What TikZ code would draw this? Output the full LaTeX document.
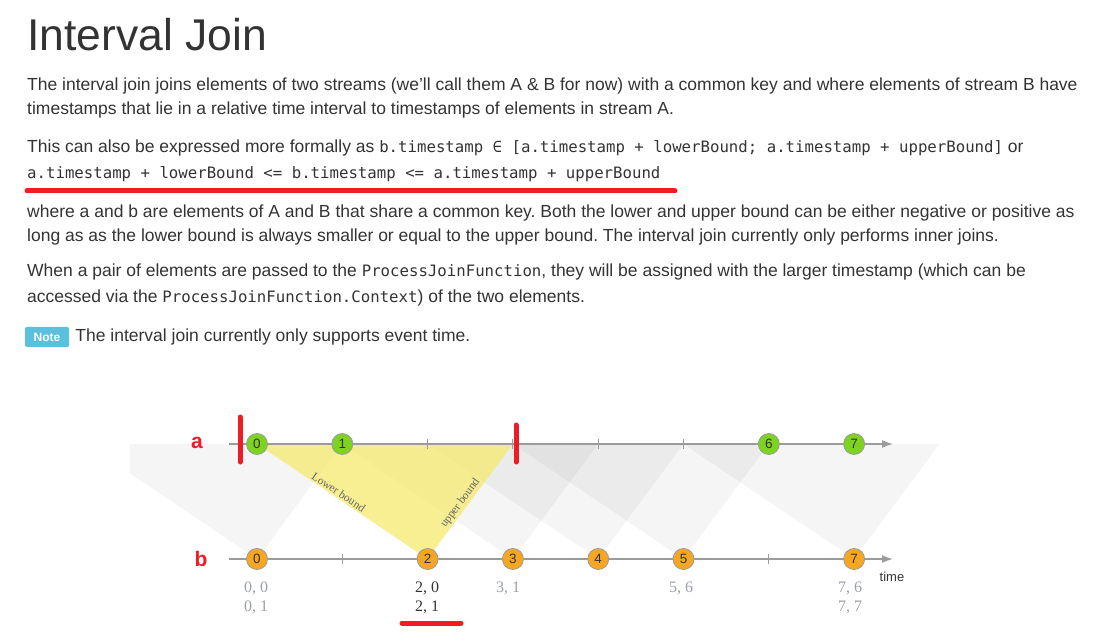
\documentclass[tikz,border=0pt]{standalone}
\usepackage{fontspec}
\setmainfont{Liberation Sans}
\newfontfamily\codefont{DejaVu Sans Mono}
\newfontfamily\pairfont{Liberation Serif}
\usetikzlibrary{arrows.meta,positioning,calc}
\definecolor{ijtext}{HTML}{333333}
\definecolor{ijgreen}{HTML}{7ED321}
\definecolor{ijorange}{HTML}{F5A623}
\definecolor{ijaxis}{HTML}{9B9B9B}
\definecolor{ijred}{HTML}{EE1C25}
\definecolor{ijblue}{HTML}{5BC0DE}
\definecolor{ijpale}{HTML}{9AA0A8}
\definecolor{ijyellow}{HTML}{F5EA6E}
\newcommand{\ijcode}[1]{{\codefont\fontsize{15.7}{20}\selectfont #1}}
\frenchspacing

\begin{document}
\begin{tikzpicture}[
  x=1pt, y=-1pt,
  body/.style={anchor=base west, inner sep=0pt, text=ijtext,
               font=\fontsize{17.5}{20}\selectfont},
  title/.style={anchor=base west, inner sep=0pt, text=ijtext,
                font=\fontsize{44.5}{50}\selectfont},
  badge/.style={fill=ijblue, rounded corners=1.5pt, text=white,
                font=\bfseries\fontsize{12}{14}\selectfont,
                minimum width=44pt, minimum height=20pt, inner sep=0pt},
  axis/.style={ijaxis, line width=1.6pt, -{Latex[length=11pt,width=8pt]}},
  tick/.style={ijaxis, line width=1pt},
  event/.style={circle, draw=ijaxis, line width=0.8pt, minimum size=21pt,
                inner sep=0pt, text=ijtext, font=\fontsize{13.5}{13.5}\selectfont},
  aevent/.style={event, fill=ijgreen},
  bevent/.style={event, fill=ijorange},
  window/.style={fill=black, fill opacity=0.04},
  joined/.style={fill=ijyellow, fill opacity=0.75},
  bound/.style={font=\pairfont\fontsize{11.5}{11.5}\selectfont, text=black!60,
                sloped, above, inner sep=1.5pt},
  pair/.style={font=\pairfont\fontsize{16}{19}\selectfont, text=ijpale,
               align=center, inner sep=0pt},
  streamlbl/.style={font=\bfseries\fontsize{21}{21}\selectfont, text=ijred},
  redmark/.style={ijred, line width=5pt, line cap=round},
]
\useasboundingbox (0,0) rectangle (1106,636);

%% Heading and text
\node[title] (head) at (27,51) {Interval Join};
\node[body] (l1) at (27,91) {The interval join joins elements of two streams (we’ll call them A \& B for now) with a common key and where elements of stream B have};
\node[body] (l2) at (27,115) {timestamps that lie in a relative time interval to timestamps of elements in stream A.};
\node[body] (l3) at (27,153) {This can also be expressed more formally as \ijcode{b.timestamp ∈ [a.timestamp + lowerBound; a.timestamp + upperBound]} or};
\node[body] (l4) at (27,179) {\ijcode{a.timestamp + lowerBound <= b.timestamp <= a.timestamp + upperBound}};
\draw[redmark] (27,191) -- (675,191);
\node[body] (l5) at (27,218) {where a and b are elements of A and B that share a common key. Both the lower and upper bound can be either negative or positive as};
\node[body] (l6) at (27,242) {long as as the lower bound is always smaller or equal to the upper bound. The interval join currently only performs inner joins.};
\node[body] (l7) at (27,277) {When a pair of elements are passed to the \ijcode{ProcessJoinFunction}, they will be assigned with the larger timestamp (which can be};
\node[body] (l8) at (27,303) {accessed via the \ijcode{ProcessJoinFunction.Context}) of the two elements.};
\node[badge] (note) at (47,337) {Note};
\node[body, right=6pt of note.east, anchor=west] (l9) {The interval join currently only supports event time.};

%% Time positions on stream a
\coordinate (tam2) at (86.4,444);
\coordinate (ta0) at (257,444);
\coordinate (ta1) at (342.3,444);
\coordinate (ta2) at (427.6,444);
\coordinate (ta3) at (512.9,444);
\coordinate (ta4) at (598.2,444);
\coordinate (ta5) at (683.5,444);
\coordinate (ta6) at (768.8,444);
\coordinate (ta7) at (854.1,444);
\coordinate (ta8) at (939.4,444);
%% Time positions on stream b
\coordinate (tb0) at (257,559);
\coordinate (tb2) at (427.6,559);
\coordinate (tb3) at (512.9,559);
\coordinate (tb4) at (598.2,559);
\coordinate (tb5) at (683.5,559);
\coordinate (tb7) at (854.1,559);

%% Join windows
\begin{scope}
  \clip (130,440) rectangle (950,565);
  \fill[window] (tam2) -- (ta1) -- (tb0) -- cycle;
  \fill[window] (ta1) -- (ta4) -- (tb3) -- cycle;
  \fill[window] (ta2) -- (ta5) -- (tb4) -- cycle;
  \fill[window] (ta3) -- (ta6) -- (tb5) -- cycle;
  \fill[window] (ta5) -- (ta8) -- (tb7) -- cycle;
  \fill[joined] (ta0) -- (ta3) -- (tb2) -- cycle;
\end{scope}
\path (ta0) -- node[bound, pos=0.46] {Lower bound} (tb2);
\path (tb2) -- node[bound, pos=0.45] {upper bound} (ta3);

%% Axes
\draw[axis] (229,444) -- (893,444);
\draw[axis] (229,559) -- (893,559);
\draw[tick] ($(ta2)+(0,-5)$) -- ($(ta2)+(0,5)$);
\draw[tick] ($(ta3)+(0,-5)$) -- ($(ta3)+(0,5)$);
\draw[tick] ($(ta4)+(0,-5)$) -- ($(ta4)+(0,5)$);
\draw[tick] ($(ta5)+(0,-5)$) -- ($(ta5)+(0,5)$);
\draw[tick] (342.3,554) -- (342.3,564);
\draw[tick] (768.8,554) -- (768.8,564);
\node[font=\fontsize{13}{13}\selectfont, text=ijtext] (time) at (892,577) {time};

%% Stream labels
\node[streamlbl] (sa) at (197,443) {a};
\node[streamlbl] (sb) at (201,559) {b};

%% Elements of stream a
\node[aevent] (a0) at (ta0) {0};
\node[aevent] (a1) at (ta1) {1};
\node[aevent] (a6) at (ta6) {6};
\node[aevent] (a7) at (ta7) {7};

%% Elements of stream b
\node[bevent] (b0) at (tb0) {0};
\node[bevent] (b2) at (tb2) {2};
\node[bevent] (b3) at (tb3) {3};
\node[bevent] (b4) at (tb4) {4};
\node[bevent] (b5) at (tb5) {5};
\node[bevent] (b7) at (tb7) {7};

%% Window marks
\draw[redmark] (240,417) -- (240,462);
\draw[redmark] (516,425) -- (516,462);

%% Joined pairs
\node[pair] (p0) at (256,597.5) {0, 0\\0, 1};
\node[pair, text=ijtext] (p2) at (427,597.5) {2, 0\\2, 1};
\node[pair] (p3) at (508,588) {3, 1};
\node[pair] (p5) at (681,588) {5, 6};
\node[pair] (p7) at (850,597.5) {7, 6\\7, 7};
\draw[redmark] (402,623) -- (461,623);

\end{tikzpicture}
\end{document}
